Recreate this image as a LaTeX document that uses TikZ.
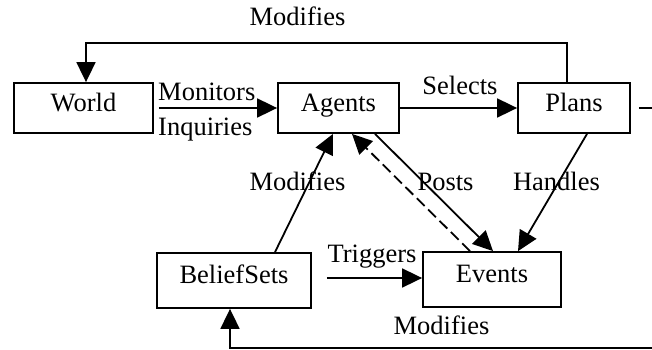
\documentclass[tikz,border=0pt]{standalone}
\usepackage{fontspec}
\setmainfont{Liberation Serif}
\usetikzlibrary{arrows.meta}
\begin{document}
\begin{tikzpicture}[x=1pt,y=-1pt,
  box/.style={draw,line width=1.8pt,inner sep=0pt,text height=0.662em,text depth=0pt,font=\fontsize{26.5}{30}\selectfont},
  lab/.style={anchor=base,inner sep=0pt,font=\fontsize{26.5}{30}\selectfont},
  labw/.style={anchor=base west,inner sep=0pt,font=\fontsize{26.5}{30}\selectfont},
  conn/.style={line width=1.8pt},
  arr/.style={conn,-{Triangle[length=20pt,width=19pt]}},
  darr/.style={arr,dash pattern=on 11pt off 5pt}]
\useasboundingbox (0,0) rectangle (652,350);
% boxes
\node[box,minimum width=139pt,minimum height=50pt] (world) at (83.5,108) {World};
\node[box,minimum width=121pt,minimum height=50pt] (agents) at (338.5,108) {Agents};
\node[box,minimum width=112pt,minimum height=50pt] (plans) at (574,108) {Plans};
\node[box,minimum width=154pt,minimum height=55pt] (beliefs) at (234,280.5) {BeliefSets};
\node[box,minimum width=138pt,minimum height=55pt] (events) at (492,279.5) {Events};
% helper coordinates
\coordinate (topR) at (567,43);
\coordinate (topL) at (86,43);
\coordinate (stubR) at (652,108);
\coordinate (botR) at (652,348);
\coordinate (botL) at (230,348);
% connectors
\draw[arr] (plans.north -| topR) -- (topR) -- (topL) -- (world.north -| topL);
\draw[arr] ([xshift=5pt]world.east) -- (agents.west);
\draw[arr] (agents.east) -- (plans.west);
\draw[conn] ([xshift=8pt]plans.east) -- (stubR);
\draw[arr] ([xshift=41pt]beliefs.north) -- ([xshift=-5.5pt]agents.south);
\draw[darr] ([xshift=-22pt]events.north) -- ([xshift=13.5pt]agents.south);
\draw[arr] ([xshift=36.5pt]agents.south) -- ([xshift=1pt]events.north);
\draw[arr] ([xshift=13pt]plans.south) -- ([xshift=26pt]events.north);
\draw[arr] ([xshift=15pt]beliefs.east |- 0,278) -- (events.west |- 0,278);
\draw[arr] (botR) -- (botL) -- (beliefs.south -| botL);
% labels
\node[lab] (lmodtop) at (297.5,26) {Modifies};
\node[labw] (lmon) at (158,101) {Monitors};
\node[labw] (linq) at (158,135) {Inquiries};
\node[lab] (lsel) at (460,95) {Selects};
\node[lab] (lmodmid) at (297.5,190) {Modifies};
\node[lab] (lposts) at (445.5,190) {Posts};
\node[lab] (lhand) at (556.5,190) {Handles};
\node[lab] (ltrig) at (372,262) {Triggers};
\node[lab] (lmodbot) at (441.5,334) {Modifies};
\end{tikzpicture}
\end{document}
